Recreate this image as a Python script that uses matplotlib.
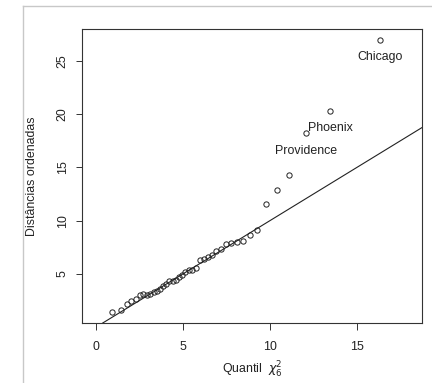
import matplotlib
matplotlib.use("Agg")
import matplotlib.pyplot as plt
from matplotlib.lines import Line2D

plt.rcParams['font.family'] = ['Liberation Sans', 'DejaVu Sans']

# chi-square(6) quantiles (x) and ordered distances (y)
quantiles = [0.94, 1.44, 1.78, 2.05, 2.30, 2.52, 2.73, 2.93, 3.13, 3.32,
             3.50, 3.68, 3.86, 4.04, 4.22, 4.41, 4.59, 4.77, 4.96, 5.15,
             5.35, 5.55, 5.76, 5.97, 6.19, 6.42, 6.66, 6.91, 7.18, 7.46,
             7.77, 8.09, 8.45, 8.84, 9.28, 9.79, 10.38, 11.10, 12.05, 13.46,
             16.32]
distances = [1.47, 1.62, 2.19, 2.50, 2.66, 3.05, 3.10, 3.05, 3.15, 3.30,
             3.45, 3.60, 3.85, 4.10, 4.30, 4.35, 4.45, 4.70, 4.90, 5.15,
             5.35, 5.42, 5.60, 6.30, 6.45, 6.60, 6.75, 7.20, 7.30, 7.80,
             7.95, 7.97, 8.09, 8.69, 9.13, 11.54, 12.90, 14.31, 18.19, 20.28,
             26.94]
label_names = ["Providence", "Phoenix", "Chicago"]
label_index = [38, 39, 40]
line_intercept = 0.0
line_slope = 1.0
xticks = [0, 5, 10, 15]
yticks = [5, 10, 15, 20, 25]

fig = plt.figure(figsize=(4.32, 3.83), dpi=100)
ax = fig.add_axes([82/432, 1-323/383, (422-82)/432, (323-29)/383])

ax.plot(quantiles, distances, linestyle='none', marker='o', markersize=3.8,
        markerfacecolor='none', markeredgecolor='#222222', markeredgewidth=0.7)
ax.axline((0, line_intercept), slope=line_slope, color='#222222', lw=0.8)

for name, idx in zip(label_names, label_index):
    ax.annotate(name, (quantiles[idx], distances[idx]), xytext=(0, -12.5),
                textcoords='offset points', ha='center', va='center',
                fontsize=8.9, color='#222222')

ax.set_xlim(-0.785, 18.73)
ax.set_ylim(0.406, 27.97)
ax.set_xticks(xticks)
ax.set_yticks(yticks)
ax.tick_params(axis='x', length=5, width=0.7, color='#333333',
               labelsize=8.9, labelcolor='#222222', pad=8)
ax.tick_params(axis='y', length=4.5, width=0.7, color='#333333',
               labelsize=8.9, labelcolor='#222222', pad=5)
for lab in ax.get_yticklabels():
    lab.set_rotation(90)
    lab.set_va('center')
for s in ax.spines.values():
    s.set_linewidth(0.8)
    s.set_color('#333333')

fig.text(32/432, 1-176/383, "Distâncias ordenadas", rotation=90,
         ha='center', va='center', fontsize=8.9, color='#222222')
fig.text(252/432, 1-370/383, r"Quantil  $\chi^2_6$", ha='center', va='center',
         fontsize=8.9, color='#222222')

# light gray frame of the original screenshot
fig.add_artist(Line2D([22.7/432, 22.7/432], [0, 1-5.7/383], transform=fig.transFigure,
                      color='#c8c8c8', lw=1.0))
fig.add_artist(Line2D([22.7/432, 1], [1-5.7/383, 1-5.7/383], transform=fig.transFigure,
                      color='#c8c8c8', lw=1.0))

fig.savefig("out.png", dpi=100)
